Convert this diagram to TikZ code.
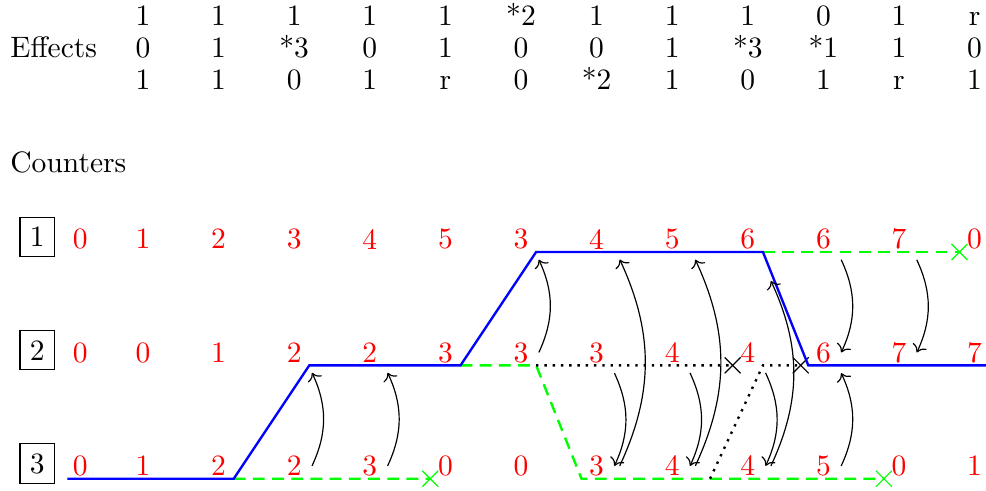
\documentclass[tikz,border=0pt]{standalone}
\usepackage{tikz}
\usetikzlibrary{arrows.meta, positioning, calc, shapes.misc}

\tikzset{
    ctr/.style={red},
    eff/.style={anchor=base},
    xmark/.style={cross out, draw, minimum size=5pt, inner sep=0pt},
    alive/.style={blue, thick},
    lost/.style={green, thick, dash pattern=on 4pt off 2.5pt},
    dead/.style={black, thick, dotted},
    jump/.style={->},
}

\begin{document}
\begin{tikzpicture}[scale=0.9]
    \useasboundingbox (-0.892,-3.161) rectangle (12.151,3.333);

    % effects
    \node[anchor=base west] (efflabel) at (-0.892,2.566) {Effects};
    \foreach \r/\y/\vals in {1/2.99/{1,1,1,1,1,*2,1,1,1,0,1,r},
                             2/2.566/{0,1,*3,0,1,0,0,1,*3,*1,1,0},
                             3/2.143/{1,1,0,1,r,0,*2,1,0,1,r,1}}
        \foreach \v [count=\c] in \vals
            \node[eff] (eff\r-\c) at (\c,\y) {\v};

    % counters
    \node[anchor=base west] (ctrlabel) at (-0.892,1.045) {Counters};
    \foreach \r/\vals in {1/{0,1,2,3,4,5,3,4,5,6,6,7,0},
                          2/{0,0,1,2,2,3,3,3,4,4,6,7,7},
                          3/{0,1,2,2,3,0,0,3,4,4,5,0,1}} {
        \node[draw] (box\r) at (-0.4,{-1.5*(\r-1)+0.2}) {\r};
        \foreach \v [count=\c from 0] in \vals
            \node[ctr] (ctr\r-\c) at ({\c+0.17*(\c==0)},{-1.5*(\r-1)+0.17}) {\v};
    }

    % crosses
    \node[xmark, green] (x1) at (11.8,0) {};
    \node[xmark, green] (x2) at (4.8,-3) {};
    \node[xmark, green] (x3) at (10.8,-3) {};
    \node[xmark] (x4) at (8.8,-1.5) {};
    \node[xmark] (x5) at (9.7,-1.5) {};

    \draw[lost] (2.2,-3) -- (x2.center);
    \draw[lost] (5.2,-1.5) -- (6.2,-1.5) -- (6.8,-3) -- (x3.center);
    \draw[lost] (9.2,0) -- (x1.center);
    \draw[dead] (6.2,-1.5) -- (x4.center);
    \draw[dead] (8.5,-3) -- (9.2,-1.5) -- (x5.center);
    \draw[alive] (0,-3) -- (2.2,-3) -- (3.2,-1.5) -- (5.2,-1.5) -- (6.2,0)
        -- (9.2,0) -- (9.8,-1.5) -- (12.151,-1.5);

    % moves
    \foreach \c in {3,4,10}
        \draw[jump] (ctr3-\c.east) to[bend right=25] (ctr2-\c.south east);
    \draw[jump] (ctr2-6.east) to[bend right=25] (ctr1-6.south east);
    \foreach \c in {10,11}
        \draw[jump] (ctr1-\c.south east) to[bend left=25] (ctr2-\c.east);
    \foreach \c in {7,8,9}
        \draw[jump] (ctr2-\c.south east) to[bend left=25] (ctr3-\c.east);
    \foreach \c in {7,8}
        \draw[jump] ([xshift=2pt]ctr3-\c.east) to[bend right=25] ([xshift=2pt]ctr1-\c.south east);
    \draw[jump] ([xshift=2pt]ctr3-9.east) to[bend right=25] ([xshift=2pt,yshift=-8pt]ctr1-9.south east);
\end{tikzpicture}
\end{document}
